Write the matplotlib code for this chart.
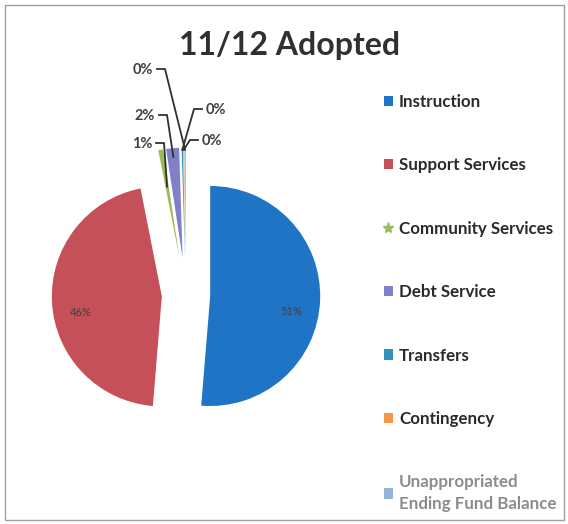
import numpy as np
import matplotlib.pyplot as plt
from matplotlib.patches import Patch, Rectangle
from matplotlib.lines import Line2D

plt.rcParams["font.family"] = ["Lato", "DejaVu Sans"]

# 2011/12 adopted budget, share of total (%)
categories = ["Instruction", "Support Services", "Community Services",
              "Debt Service", "Transfers", "Contingency",
              "Unappropriated\nEnding Fund Balance"]
shares = [51.3, 45.6, 0.7, 1.9, 0.2, 0.1, 0.2]
colors = ["#1F74C6", "#C5505A", "#9BBB59", "#8080C8", "#2E93B8",
          "#F79646", "#95B3D7"]
explode = [0.22, 0.22, 0.34, 0.34, 0.34, 0.34, 0.34]

W, H = 568, 524
R = 110
fig = plt.figure(figsize=(W / 100, H / 100), dpi=100)
ax = fig.add_axes([0, 0, 1, 1])

# pie explode offsets are in data units, so scale by the radius
wedges, _ = ax.pie(shares, colors=colors, explode=[e * R for e in explode],
                   startangle=90, counterclock=False, center=(186, H - 295),
                   radius=R, frame=True, wedgeprops=dict(linewidth=0))
ax.set_xlim(0, W)
ax.set_ylim(0, H)
ax.set_aspect("equal")
ax.axis("off")


def edge_point(w, frac=1.0):
    a = np.deg2rad((w.theta1 + w.theta2) / 2)
    cx, cy = w.center
    return cx + w.r * frac * np.cos(a), cy + w.r * frac * np.sin(a)


# percentages inside the two large slices
for w, v in zip(wedges[:2], shares[:2]):
    x, y = edge_point(w, 0.74)
    ax.text(x, y - 12, f"{v:.0f}%", ha="center", va="center",
            fontsize=8, color="#404040")

# leader-line labels for the small slices:
# wedge index -> (text x, text y from top, side, how far along the wedge the line ends)
label_pos = {
    6: (143, 70, "l", 0.98),
    3: (145, 116, "l", 0.92),
    2: (142, 144, "l", 0.66),
    4: (216, 110, "r", 0.98),
    5: (212, 141, "r", 0.98),
}
for idx, (tx, ty, side, depth) in label_pos.items():
    ex, ey = edge_point(wedges[idx], depth)
    ax.text(tx, H - ty, f"{shares[idx]:.0f}%", ha="center", va="center",
            fontsize=10.5, color="#404040", fontweight="bold")
    if side == "l":
        x0 = tx + 14
        x1 = x0 + 8
    else:
        x0 = tx - 14
        x1 = x0 - 8
    ax.plot([x0, x1, ex], [H - ty + 1, H - ty + 1, ey], color="#303030", lw=1.3)

ax.text(290, H - 45, "11/12 Adopted", ha="center", va="center",
        fontsize=23, fontweight="bold", color="#303030")

handles = []
for c, name in zip(colors, categories):
    if name == "Community Services":
        handles.append(Line2D([], [], marker="*", ls="", color=c, markersize=8))
    else:
        handles.append(Patch(facecolor=c, edgecolor="none"))
leg = fig.legend(handles, categories, loc="upper left",
                 bbox_to_anchor=(377 / W, 1 - 87 / H), frameon=False,
                 fontsize=12.2, handlelength=0.55, handleheight=0.55,
                 handletextpad=0.35, labelspacing=2.8, borderaxespad=0)
for t in leg.get_texts():
    t.set_fontweight("bold")
    t.set_color("#2A2A2A")
leg.get_texts()[-1].set_color("#8C8C8C")
leg.get_texts()[-1].set_linespacing(1.4)

fig.patches.append(Rectangle((5 / W, 4 / H), 559 / W, 515 / H, fill=False,
                             transform=fig.transFigure, ec="#A0A0A0", lw=1))

fig.savefig("out.png", dpi=100)
